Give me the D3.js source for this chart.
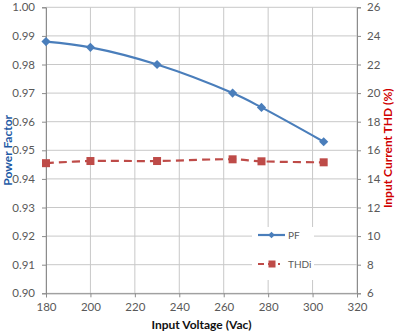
<!DOCTYPE html>
<html><head><meta charset="utf-8">
<script src="https://cdn.jsdelivr.net/npm/d3@7"></script>
<style>body{margin:0;background:#fff}svg{display:block}</style>
</head><body><svg id="c" width="398" height="334"></svg>
<script>
const voltages = [180, 200, 230, 264, 277, 305];
const pfValues = [0.988, 0.986, 0.980, 0.970, 0.965, 0.953];
const thdValues = [15.1, 15.25, 15.25, 15.37, 15.23, 15.16];
const xTicks = [180, 200, 220, 240, 260, 280, 300, 320];
const pfTicks = [0.90, 0.91, 0.92, 0.93, 0.94, 0.95, 0.96, 0.97, 0.98, 0.99, 1.00];
const thdTicks = [6, 8, 10, 12, 14, 16, 18, 20, 22, 24, 26];
const seriesNames = ["PF", "THDi"];

const svg = d3.select("#c");
const L = 46, R = 357, T = 7.3, B = 293.3;
const font = "Lato, Open Sans, Liberation Sans, sans-serif";
const x = d3.scaleLinear().domain([180, 320]).range([L, R]);
const yL = d3.scaleLinear().domain([0.90, 1.00]).range([B, T]);
const yR = d3.scaleLinear().domain([6, 26]).range([B, T]);
const blue = "#4A7EBB", red = "#BE4B48";

// gridlines
const g = svg.append("g");
g.selectAll(".vg").data(xTicks).join("line")
  .attr("x1", d => x(d)).attr("x2", d => x(d)).attr("y1", T).attr("y2", B)
  .attr("stroke", "#c8c8c8").attr("stroke-width", 1);
g.selectAll(".hg").data(pfTicks).join("line")
  .attr("x1", L).attr("x2", R).attr("y1", d => yL(d)).attr("y2", d => yL(d))
  .attr("stroke", "#c8c8c8").attr("stroke-width", 1);

// axes
const axL = d3.axisLeft(yL).tickValues(pfTicks).tickFormat(d3.format(".2f")).tickSize(4).tickPadding(7);
const axR = d3.axisRight(yR).tickValues(thdTicks).tickFormat(d3.format("d")).tickSize(4).tickPadding(6);
const axB = d3.axisBottom(x).tickValues(xTicks).tickFormat(d3.format("d")).tickSize(4).tickPadding(6);
function style(sel){
  sel.selectAll("path,line").attr("stroke", "#8c8c8c");
  sel.selectAll("text").attr("fill", "#595959").style("font-family", font).style("font-size", "11.5px");
}
svg.append("g").attr("transform", `translate(${L},0)`).call(axL).call(style);
svg.append("g").attr("transform", `translate(${R},0)`).call(axR).call(style);
svg.append("g").attr("transform", `translate(0,${B})`).call(axB).call(style);
svg.selectAll(".domain").attr("stroke", "#8c8c8c");

// legend background
svg.append("rect").attr("x", 252).attr("y", 227).attr("width", 62).attr("height", 53).attr("fill", "#fff");

// lines
const pts = voltages.map((v, i) => ({v, pf: pfValues[i], thd: thdValues[i]}));
const linePF = d3.line().x(d => x(d.v)).y(d => yL(d.pf)).curve(d3.curveCatmullRom.alpha(0.5));
const lineTHD = d3.line().x(d => x(d.v)).y(d => yR(d.thd)).curve(d3.curveCatmullRom.alpha(0.5));
svg.append("path").datum(pts).attr("d", linePF).attr("fill", "none").attr("stroke", blue).attr("stroke-width", 2.2);
svg.append("path").datum(pts).attr("d", lineTHD).attr("fill", "none").attr("stroke", red).attr("stroke-width", 2.2).attr("stroke-dasharray", "8,5");

svg.selectAll(".pfm").data(pts).join("path")
  .attr("d", d3.symbol().type(d3.symbolSquare).size(42)).attr("fill", blue)
  .attr("transform", d => `translate(${x(d.v)},${yL(d.pf)}) rotate(45)`);
svg.selectAll(".thm").data(pts).join("rect")
  .attr("x", d => x(d.v) - 4).attr("y", d => yR(d.thd) - 4).attr("width", 8).attr("height", 8).attr("fill", red);

// legend
const lg = svg.append("g");
lg.append("line").attr("x1", 258).attr("x2", 285).attr("y1", 235).attr("y2", 235).attr("stroke", blue).attr("stroke-width", 2.2);
lg.append("path").attr("d", d3.symbol().type(d3.symbolSquare).size(22)).attr("fill", blue).attr("transform", "translate(271.5,235) rotate(45)");
lg.append("text").attr("x", 288).attr("y", 238.5).text(seriesNames[0]).attr("fill", "#595959").style("font-family", font).style("font-size", "10px");
lg.append("line").attr("x1", 258).attr("x2", 280).attr("y1", 264).attr("y2", 264).attr("stroke", red).attr("stroke-width", 2.2).attr("stroke-dasharray", "6,4");
lg.append("rect").attr("x", 268.5).attr("y", 260.5).attr("width", 7).attr("height", 7).attr("fill", red);
lg.append("text").attr("x", 288).attr("y", 267.5).text(seriesNames[1]).attr("fill", "#595959").style("font-family", font).style("font-size", "10px");

// titles
svg.append("text").attr("transform", `translate(12,${(T+B)/2}) rotate(-90)`).attr("text-anchor", "middle")
  .text("Power Factor").attr("fill", "#1F5BA6").style("font-family", font).style("font-size", "12px").style("font-weight", "bold");
svg.append("text").attr("transform", `translate(392,${(T+B)/2 - 2}) rotate(-90)`).attr("text-anchor", "middle")
  .text("Input Current THD (%)").attr("fill", "#D00000").style("font-family", font).style("font-size", "12px").style("font-weight", "bold");
svg.append("text").attr("x", (L+R)/2).attr("y", 329).attr("text-anchor", "middle")
  .text("Input Voltage (Vac)").attr("fill", "#111").style("font-family", font).style("font-size", "12px").style("font-weight", "bold");
</script></body></html>
